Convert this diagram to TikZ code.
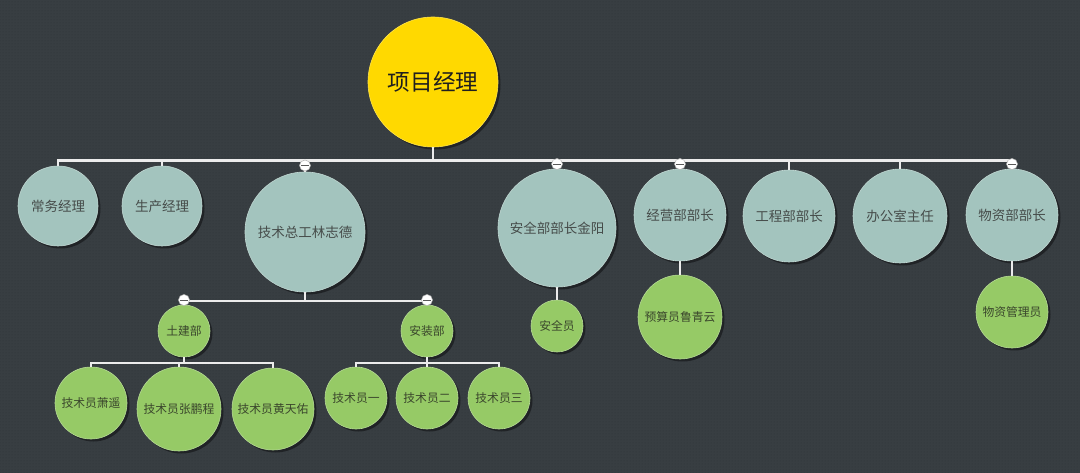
\documentclass[tikz,border=0pt]{standalone}
\usepackage{fontspec}
\usepackage{xcolor}
\usepackage{tikz}
\usetikzlibrary{shadows, patterns}
\setmainfont{Noto Sans CJK SC}
\definecolor{bgdark}{RGB}{56,62,66}
\definecolor{bgdot}{RGB}{47,52,56}
\definecolor{rootyellow}{RGB}{255,217,0}
\definecolor{headteal}{RGB}{163,196,190}
\definecolor{staffgreen}{RGB}{150,202,102}
\definecolor{linkwhite}{RGB}{236,236,236}
\definecolor{headtext}{RGB}{70,76,74}
\definecolor{stafftext}{RGB}{58,70,44}
\definecolor{shadowdark}{RGB}{30,33,36}

\begin{document}
\begin{tikzpicture}[
  x=1pt, y=-1pt,
  bubble/.style={circle, draw=#1!70!white, line width=0.6pt, fill=#1,
                 inner sep=0pt, align=center,
                 drop shadow={shadow xshift=2.5pt, shadow yshift=-2.5pt,
                              fill=shadowdark, opacity=0.9}},
  root/.style={bubble=rootyellow, minimum size=130pt,
               font=\fontsize{22.6}{26}\selectfont, text=black!88},
  head/.style={bubble=headteal, font=\fontsize{13.5}{16}\selectfont,
               text=headtext},
  staff/.style={bubble=staffgreen, font=\fontsize{11.8}{14}\selectfont,
                text=stafftext},
  link/.style={draw=linkwhite, line width=2.6pt},
  sublink/.style={draw=linkwhite, line width=2pt},
  fold/.style={circle, fill=white, draw=gray!60, line width=0.5pt,
               minimum size=11pt, inner sep=0pt,
               path picture={\draw[line width=0.7pt, black!65]
                 ([xshift=-4pt]path picture bounding box.center) --
                 ([xshift=4pt]path picture bounding box.center);}}
]

% Background
\useasboundingbox (0,0) rectangle (1080,473);
\fill[bgdark] (0,0) rectangle (1080,473);
\fill[pattern=dots, pattern color=bgdot] (0,0) rectangle (1080,473);

% Root
\node[root] (root) at (433,82) {项目经理};

% Heads
\node[head, minimum size=80pt]  (cwjl) at (58,206)  {常务经理};
\node[head, minimum size=80pt]  (scjl) at (162,206) {生产经理};
\node[head, minimum size=120pt] (jszg) at (305,232) {技术总工林志德};
\node[head, minimum size=118pt] (aqbz) at (557,228) {安全部部长金阳};
\node[head, minimum size=92pt]  (jybz) at (680,215) {经营部部长};
\node[head, minimum size=92pt]  (gcbz) at (789,216) {工程部部长};
\node[head, minimum size=94pt]  (bgs)  at (900,216) {办公室主任};
\node[head, minimum size=92pt]  (wzbz) at (1012,215) {物资部部长};

% Departments and staff
\node[staff, minimum size=52pt] (tjb)   at (184,331)  {土建部};
\node[staff, minimum size=52pt] (azb)   at (427,331)  {安装部};
\node[staff, minimum size=52pt] (aqy)   at (557,326)  {安全员};
\node[staff, minimum size=84pt] (ysy)   at (680,317)  {预算员鲁青云};
\node[staff, minimum size=72pt] (wzgly) at (1012,312) {物资管理员};

\node[staff, minimum size=72pt] (xy)   at (91,403)  {技术员萧遥};
\node[staff, minimum size=84pt] (zpc)  at (179,409) {技术员张鹏程};
\node[staff, minimum size=82pt] (hty)  at (273,409) {技术员黄天佑};
\node[staff, minimum size=62pt] (jsy1) at (356,398) {技术员一};
\node[staff, minimum size=62pt] (jsy2) at (427,398) {技术员二};
\node[staff, minimum size=62pt] (jsy3) at (499,398) {技术员三};

% Links
\foreach \n in {cwjl,scjl,jszg,aqbz,jybz,gcbz,bgs,wzbz}
  \draw[link] (root.south) -- ++(0,13) -| (\n.north);
\foreach \n in {tjb,azb}
  \draw[sublink] (jszg.south) -- ++(0,9) -| (\n.north);
\foreach \n in {xy,zpc,hty}
  \draw[sublink] (tjb.south) -- ++(0,5.5) -| (\n.north);
\foreach \n in {jsy1,jsy2,jsy3}
  \draw[sublink] (azb.south) -- ++(0,5.5) -| (\n.north);
\draw[sublink] (aqbz.south) -- (aqy.north);
\draw[sublink] (jybz.south) -- (ysy.north);
\draw[sublink] (wzbz.south) -- (wzgly.north);

% Fold markers
\node[fold] (f-jszg) at (305,165.5) {};
\node[fold] (f-aqbz) at (557,164)   {};
\node[fold] (f-jybz) at (680,164)   {};
\node[fold] (f-wzbz) at (1012,164)  {};
\node[fold] (f-tjb)  at (184,300)   {};
\node[fold] (f-azb)  at (427,300)   {};

\end{tikzpicture}
\end{document}
